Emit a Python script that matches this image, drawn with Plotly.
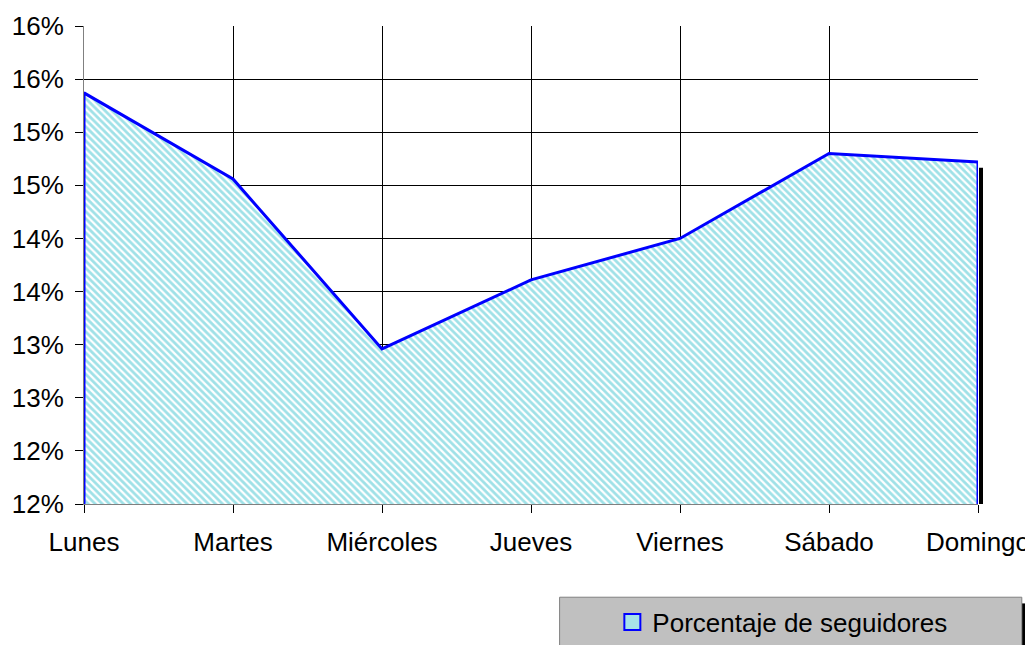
import plotly.graph_objects as go

dias = ["Lunes", "Martes", "Miércoles", "Jueves", "Viernes", "Sábado", "Domingo"]
porcentaje = [0.1587, 0.1506, 0.1346, 0.1411, 0.1450, 0.1530, 0.1522]
serie = "Porcentaje de seguidores"
y_ticks = [0.12, 0.125, 0.13, 0.135, 0.14, 0.145, 0.15, 0.155, 0.16, 0.165]
y_tick_labels = ["12%", "12%", "13%", "13%", "14%", "14%", "15%", "15%", "16%", "16%"]

ymin, ymax = y_ticks[0], y_ticks[-1]
xs = list(range(len(dias)))
pattern = dict(shape="\\", fgcolor="#40c4d0", bgcolor="white", size=5, solidity=0.55)

fig = go.Figure()
fig.add_trace(go.Scatter(
    x=[xs[0]] + xs + [xs[-1]],
    y=[ymin] + porcentaje + [ymin],
    mode="lines",
    fill="tozeroy",
    fillpattern=pattern,
    line=dict(color="#0000ff", width=3),
    name=serie,
    showlegend=False,
))
# legend-only entry (square swatch)
fig.add_trace(go.Scatter(
    x=[None], y=[None], name=serie, showlegend=True, mode="markers",
    marker=dict(symbol="square", size=16, color="#a6e2e8", line=dict(color="#0000ff", width=2)),
))

# shadow at right edge of area
fig.add_shape(type="rect", xref="paper", yref="paper", xsizemode="pixel", xanchor=1,
              x0=1, x1=5, y0=0, y1=(porcentaje[-1] - ymin) / (ymax - ymin) - 0.012,
              fillcolor="black", line=dict(width=0), layer="above")

# legend box + shadow (paper coords)
fig.add_shape(type="rect", xref="paper", yref="paper", x0=1.049, x1=1.056, y0=-0.208, y1=-0.32,
              fillcolor="black", line=dict(width=0))
fig.add_shape(type="rect", xref="paper", yref="paper", x0=0.532, x1=1.049, y0=-0.195, y1=-0.32,
              fillcolor="#c0c0c0", line=dict(color="#808080", width=1))

fig.update_layout(
    width=1025, height=637,
    margin=dict(l=76, r=55, t=18, b=141),
    paper_bgcolor="white", plot_bgcolor="white",
    font=dict(family="Liberation Sans, Arial, sans-serif", size=26, color="black"),
    showlegend=True,
    legend=dict(x=0.591, xref="paper", y=0.036, yref="container",
                xanchor="left", yanchor="middle",
                bgcolor="rgba(0,0,0,0)", font=dict(size=26), itemwidth=30),
    xaxis=dict(
        range=[xs[0], xs[-1]], tickvals=xs, ticktext=dias,
        showgrid=True, gridcolor="black", gridwidth=1,
        showline=True, linecolor="#808080", linewidth=1,
        ticks="outside", ticklen=8, tickcolor="black",
        zeroline=False, ticklabelstandoff=7, tickfont=dict(size=26),
        automargin=False,
    ),
    yaxis=dict(
        range=[ymin, ymax], tickvals=y_ticks, ticktext=y_tick_labels,
        showgrid=True, gridcolor="black", gridwidth=1,
        showline=True, linecolor="#808080", linewidth=1,
        ticks="outside", ticklen=8, tickcolor="black",
        zeroline=False, ticklabelstandoff=6, tickfont=dict(size=26),
        automargin=False,
    ),
)

fig.write_html("out.html")
